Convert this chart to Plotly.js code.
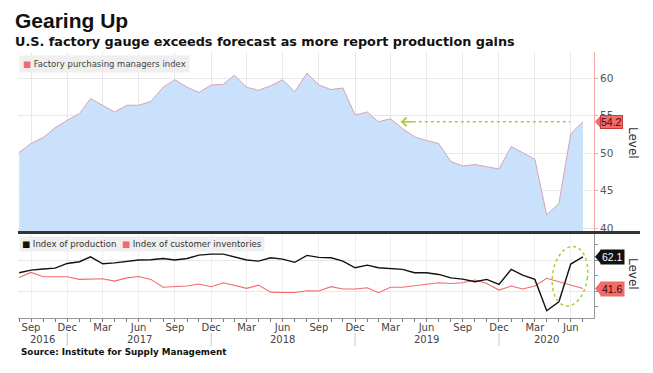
<!DOCTYPE html>
<html><head><meta charset="utf-8">
<script src="https://cdn.plot.ly/plotly-3.0.1.min.js"></script>
<style>html,body{margin:0;padding:0;background:#fff}#chart{width:653px;height:373px}</style>
</head><body><div id="chart"></div>
<script>
// ---- data (month-end observations) ----
const months = [
 "2016-08-31","2016-09-30","2016-10-31","2016-11-30","2016-12-31",
 "2017-01-31","2017-02-28","2017-03-31","2017-04-30","2017-05-31","2017-06-30","2017-07-31","2017-08-31","2017-09-30","2017-10-31","2017-11-30","2017-12-31",
 "2018-01-31","2018-02-28","2018-03-31","2018-04-30","2018-05-31","2018-06-30","2018-07-31","2018-08-31","2018-09-30","2018-10-31","2018-11-30","2018-12-31",
 "2019-01-31","2019-02-28","2019-03-31","2019-04-30","2019-05-31","2019-06-30","2019-07-31","2019-08-31","2019-09-30","2019-10-31","2019-11-30","2019-12-31",
 "2020-01-31","2020-02-29","2020-03-31","2020-04-30","2020-05-31","2020-06-30","2020-07-31"];
const pmi = [50.1,51.3,52.1,53.4,54.4,
 55.3,57.3,56.4,55.5,56.4,56.4,56.9,58.8,59.8,58.8,58.1,59.1,
 59.2,60.4,58.8,58.4,59.0,59.8,58.2,60.7,59.1,58.5,58.7,55.1,
 55.5,54.2,54.6,53.3,52.2,51.7,51.3,48.9,48.3,48.5,48.2,47.9,
 50.9,50.1,49.2,41.8,43.3,52.6,54.2];
const production = [51.8,53.5,54.2,54.8,57.8,
 58.9,62.1,57.6,58.2,59.3,60.0,60.2,61.0,60.0,61.0,63.2,63.8,
 63.8,62.1,60.0,59.3,61.5,60.6,58.5,63.0,61.7,61.5,59.3,55.0,
 56.7,55.0,54.6,54.0,51.8,51.8,50.7,48.5,47.7,46.0,47.5,44.3,
 54.0,50.3,47.5,27.3,33.1,57.4,62.1];
const inventories = [48.8,52.0,49.2,49.0,49.2,
 47.5,47.9,47.9,46.4,48.5,49.4,47.5,42.4,42.8,43.2,44.5,42.8,
 45.3,43.4,41.7,43.8,39.3,39.1,39.1,40.2,40.0,42.8,41.3,41.3,
 42.1,38.9,42.4,42.4,43.4,44.5,45.3,44.9,45.3,47.1,44.9,40.6,
 43.2,41.3,43.2,48.2,46.0,44.3,41.6];
const monthNames = ["Jan","Feb","Mar","Apr","May","Jun","Jul","Aug","Sep","Oct","Nov","Dec"];
const tickMonths = [3,6,9,12];
const seriesNames = ["Factory purchasing managers index","Index of production","Index of customer inventories"];

// ---- colours / helpers ----
const C = {fill:'#c9e1fb', pmiLine:'#d9a2b4', red:'#f26b6b', black:'#111111', green:'#a8cf3a', grid:'#e8e8e8'};
const DAY = 86400000;
const ms = s => Date.parse(s + "T00:00:00Z");
const iso = v => new Date(v).toISOString().slice(0,10);
const xStart = iso(ms(months[0]) - 3*DAY);
const xEnd = iso(ms(months[months.length-1]) + 28*DAY);
const tickVals = months.filter(m => tickMonths.includes(+m.slice(5,7)));
const tickText = tickVals.map(m => monthNames[+m.slice(5,7)-1]);
const decs = months.filter(m => m.slice(5,7) === "12");

// pixel layout helpers (plot area: top 52, bottom 318, height 266)
const T = 52, B = 318, H = B - T;
const py = px => (B - px) / H;
const pxX = px => (px - 18) / 576;

const last = pmi.length - 1;
const lastPMI = pmi[last];
let prevIdx = last - 1;
while (prevIdx > 0 && pmi[prevIdx] < lastPMI) prevIdx--;

const traces = [
 {x: months, y: pmi, xaxis:'x', yaxis:'y', mode:'lines', fill:'tozeroy', fillcolor:C.fill,
  line:{color:C.pmiLine, width:1}, name:seriesNames[0], hoverinfo:'skip'},
 {x: months, y: inventories, xaxis:'x2', yaxis:'y2', mode:'lines', line:{color:C.red, width:1.1}, name:seriesNames[2]},
 {x: months, y: production, xaxis:'x2', yaxis:'y2', mode:'lines', line:{color:C.black, width:1.4}, name:seriesNames[1]}
];

// year labels centred on visible span of each year
const years = [...new Set(months.map(m => m.slice(0,4)))];
const yearAnn = years.map(y => {
  const a = Math.max(ms(xStart), ms((+y-1) + "-12-31"));
  const b = Math.min(ms(xEnd), ms(y + "-12-31"));
  return {xref:'x2', yref:'paper', x: iso((a+b)/2), y: py(339.5), text: y, showarrow:false,
          xanchor:'center', yanchor:'middle', font:{family:'DejaVu Sans', size:10, color:'#444'}};
});

const annotations = [
 {xref:'paper', yref:'paper', x:pxX(13), y:py(20.5), xanchor:'left', yanchor:'middle', showarrow:false,
  text:'<b>Gearing Up</b>', font:{family:'Liberation Sans', size:21, color:'#111'}},
 {xref:'paper', yref:'paper', x:pxX(13), y:py(42), xanchor:'left', yanchor:'middle', showarrow:false,
  text:'<b>U.S. factory gauge exceeds forecast as more report production gains</b>', font:{family:'DejaVu Sans', size:12.8, color:'#111'}},
 {xref:'paper', yref:'paper', x:pxX(19), y:py(352), xanchor:'left', yanchor:'middle', showarrow:false,
  text:'<b>Source: Institute for Supply Management</b>', font:{family:'DejaVu Sans', size:8.8, color:'#111'}},
 // legends
 {xref:'paper', yref:'paper', x:pxX(19), y:py(64), xanchor:'left', yanchor:'middle', showarrow:false,
  bgcolor:'#efefef', borderpad:3,
  text:'<span style="color:'+C.red+'">■</span> '+seriesNames[0], font:{family:'DejaVu Sans', size:8.5, color:'#444'}},
 {xref:'paper', yref:'paper', x:pxX(19), y:py(243.5), xanchor:'left', yanchor:'middle', showarrow:false,
  bgcolor:'#efefef', borderpad:2,
  text:'<span style="color:'+C.black+'">■</span> '+seriesNames[1]+'  <span style="color:'+C.red+'">■</span> '+seriesNames[2],
  font:{family:'DejaVu Sans', size:8.6, color:'#333'}},
 // axis titles
 {xref:'paper', yref:'paper', x:pxX(633), y:py(143), xanchor:'center', yanchor:'middle', textangle:90, showarrow:false, text:'Level',
  font:{family:'DejaVu Sans', size:12, color:'#333'}},
 {xref:'paper', yref:'paper', x:pxX(633), y:py(274), xanchor:'center', yanchor:'middle', textangle:90, showarrow:false, text:'Level',
  font:{family:'DejaVu Sans', size:12, color:'#333'}},
 // last-value tags
 {xref:'paper', yref:'y', x:1, y:lastPMI, xanchor:'left', xshift:6, showarrow:false, text:lastPMI.toFixed(1),
  bgcolor:C.red, bordercolor:'#c83a3a', borderwidth:1, borderpad:0, font:{family:'Liberation Sans', size:10.5, color:'#3a0a0a'}},
 {xref:'paper', yref:'y2', x:1, y:production[last], xanchor:'left', xshift:6, showarrow:false, text:production[last].toFixed(1),
  bgcolor:'#111', borderpad:1, font:{family:'Liberation Sans', size:10.5, color:'#fff'}},
 {xref:'paper', yref:'y2', x:1, y:inventories[last], xanchor:'left', xshift:6, showarrow:false, text:inventories[last].toFixed(1),
  bgcolor:C.red, borderpad:1, font:{family:'Liberation Sans', size:10.5, color:'#3a0a0a'}},
 // arrowhead of green pointer
 {xref:'x', yref:'y', x: iso(ms(months[prevIdx]) + 26*DAY), y:lastPMI, ax:14, ay:0, text:'', showarrow:true,
  arrowhead:4, arrowsize:1.3, arrowwidth:1.3, arrowcolor:C.green}
].concat(yearAnn);

const tri = (anchorY, yref, color) => ({type:'path', xref:'paper', yref:yref, xsizemode:'pixel', ysizemode:'pixel',
  xanchor:1, yanchor:anchorY, path:'M1,0 L7,7 L7,-7 Z', fillcolor:color, line:{width:0}});

// tilted ellipse (pixel units around an anchor)
const ellPts = [];
for (let i = 0; i <= 48; i++) {
  const t = i/48*2*Math.PI, a = 17.5, b = 30, r = -8*Math.PI/180;
  const ex = a*Math.cos(t), ey = b*Math.sin(t);
  ellPts.push((i?'L':'M') + (ex*Math.cos(r) - ey*Math.sin(r)).toFixed(2) + ',' + (ex*Math.sin(r) + ey*Math.cos(r)).toFixed(2));
}

const shapes = [
 // separator between panels
 {type:'line', xref:'paper', yref:'paper', x0:0, x1:pxX(640), y0:py(232.5), y1:py(232.5), line:{color:'#333', width:3}},
 // year separators
 ...decs.map(d => ({type:'line', xref:'x2', yref:'paper', x0:d, x1:d, y0:py(333), y1:py(346), line:{color:'#c8c8c8', width:1}})),
 // green dotted pointer line
 {type:'line', xref:'x', yref:'y', x0: iso(ms(months[prevIdx]) + 26*DAY), x1: iso(ms(months[last-1]) - 2*DAY), y0:lastPMI, y1:lastPMI,
  line:{color:C.green, width:1.5, dash:'dot'}},
 // ellipse around recent rebound
 {type:'path', xref:'x2', yref:'y2', xsizemode:'pixel', ysizemode:'pixel', xanchor: iso(ms(months[last-1]) - 2*DAY), yanchor: 49.5,
  path: ellPts.join(' ') + ' Z', line:{color:C.green, width:1.5, dash:'dot'}},
 tri(lastPMI, 'y', C.red), tri(production[last], 'y2', '#111'), tri(inventories[last], 'y2', C.red)
];

const layout = {
 width:653, height:373, margin:{l:18, r:59, t:T, b:373-B}, paper_bgcolor:'#fff', plot_bgcolor:'#fff',
 showlegend:false, font:{family:'DejaVu Sans', color:'#444'},
 xaxis:{domain:[0,1], anchor:'y', type:'date', range:[xStart,xEnd], tickmode:'array', tickvals:tickVals,
   showticklabels:false, ticks:'', showgrid:true, gridcolor:C.grid, zeroline:false, showline:false},
 yaxis:{domain:[py(231),1], anchor:'x', side:'right', range:[39.64,63.5], dtick:5, tick0:0, showgrid:true, gridcolor:C.grid,
   showline:true, linecolor:'#f2a8a8', linewidth:1, ticks:'outside', ticklen:3, tickcolor:'#f2a8a8', zeroline:false,
   tickfont:{family:'DejaVu Sans', size:10.5, color:'#555'}},
 xaxis2:{domain:[0,1], anchor:'y2', type:'date', range:[xStart,xEnd], tickmode:'array', tickvals:tickVals, ticktext:tickText,
   showgrid:true, gridcolor:'#efefef', showline:true, linecolor:'#999', ticks:'', zeroline:false,
   tickfont:{family:'DejaVu Sans', size:10, color:'#444'},
   minor:{tickmode:'array', tickvals:months, ticks:'outside', ticklen:3, tickcolor:'#777', showgrid:false}},
 yaxis2:{domain:[0,py(234)], anchor:'x2', side:'right', range:[22.6,76.8], tickmode:'array', tickvals:[40,60],
   showticklabels:false, ticks:'outside', ticklen:3, tickcolor:'#888', showgrid:true, gridcolor:C.grid, zeroline:false,
   showline:true, linecolor:'#999',
   minor:{tickmode:'array', tickvals:[30,50,70], ticks:'outside', ticklen:3, tickcolor:'#888', showgrid:false}},
 annotations: annotations, shapes: shapes
};

Plotly.newPlot('chart', traces, layout, {staticPlot:true, displayModeBar:false});
</script></body></html>
